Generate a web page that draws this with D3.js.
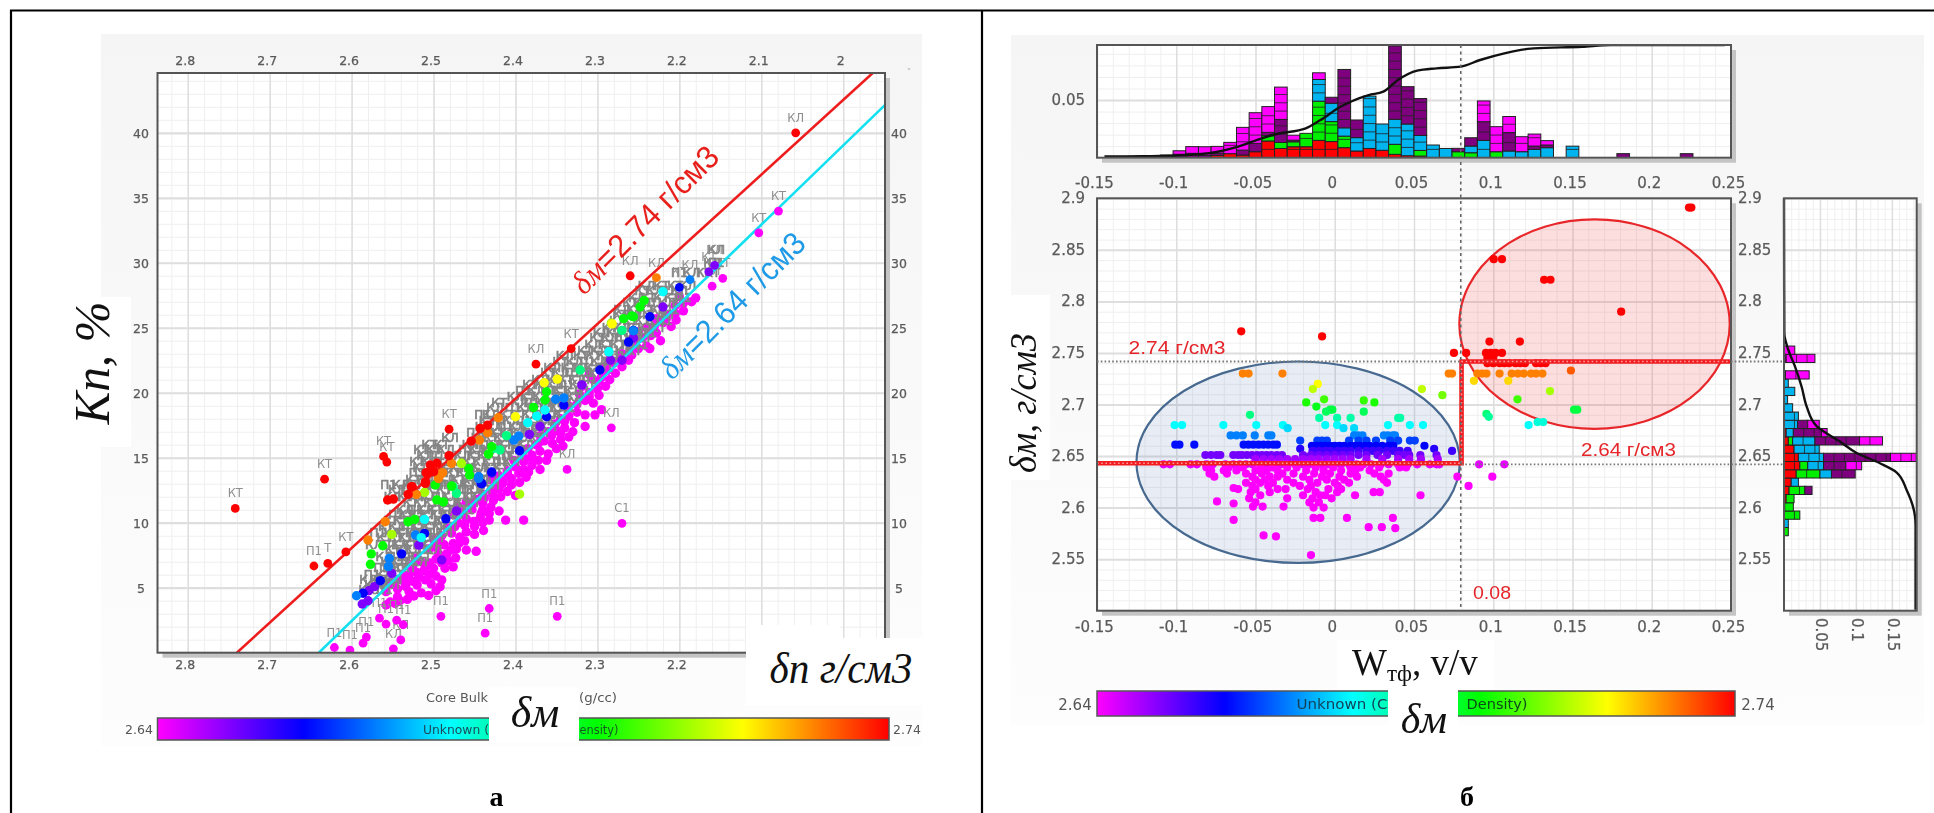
<!DOCTYPE html>
<html><head><meta charset="utf-8">
<style>html,body{margin:0;padding:0;background:#fff}svg{display:block;filter:blur(.45px)}</style>
<script src="https://cdn.jsdelivr.net/npm/d3@7"></script>
</head><body><svg id="c" width="1934" height="813"></svg>
<script>
// ---------- shared colour legend ----------
const densityStops=[2.64,2.66,2.68,2.70,2.72,2.74];
const densityColors=["#ff00ff","#0000ff","#00ffff","#00ff00","#ffff00","#ff0000"];
// ---------- panel a: axes ----------
const aXTicks=[2.8,2.7,2.6,2.5,2.4,2.3,2.2,2.1,2];
const aYTicks=[5,10,15,20,25,30,35,40];
const lineMatrix=[2.74,2.64];
const fluidDensity=1;
// ---------- panel a: labelled outliers [bulk density, Kp, matrix density, label] ----------
const aOutliers=[
[2.742,11.1,2.75,"КТ"],[2.633,13.35,2.75,"КТ"],[2.561,15.1,2.75,"КТ"],[2.557,14.67,2.75,"КТ"],
[2.646,6.67,2.75,"П1"],[2.629,6.87,2.75,"Т"],[2.607,7.75,2.75,"КТ"],[2.481,17.2,2.75,"КТ"],
[2.058,40,2.75,"КЛ"],[2.26,29,2.75,"КЛ"],[2.228,28.85,2.73,"КЛ"],[2.332,23.4,2.75,"КТ"],[2.375,22.2,2.75,"КЛ"],
[2.187,28.7,2.67,"КЛ"],[2.2,28.1,2.66,"КТ"],[2.164,29.3,2.65,"КТ"],[2.157,29.8,2.65,"КЛ"],
[2.079,33.98,2.64,"КТ"],[2.103,32.3,2.64,"КТ"],[2.16,28.2,2.64,"КЛ"],[2.147,28.8,2.64,"КТ"],
[2.27,9.95,2.64,"С1"],[2.283,17.3,2.64,"КЛ"],[2.337,14.1,2.64,"КЛ"],[2.349,2.8,2.64,"П1"],[2.432,3.4,2.64,"П1"],
[2.437,1.5,2.64,"П1"],[2.491,2.8,2.64,"П1"],[2.621,.4,2.64,"П1"],[2.602,.2,2.64,"П1"],[2.582,1.2,2.64,"П1"],
[2.586,.73,2.64,"П1"],[2.549,.3,2.64,"КЛ"],[2.54,.98,2.64,"КЛ"],[2.566,2.66,2.64,"П1"],[2.558,2.2,2.64,"П1"],
[2.545,2.5,2.64,"П1"],[2.537,2.15,2.64,"П1"]];
// ---------- panel a: gray label cloud, rows of [Kp, [bulk density...]] ----------
const aCloudTypes=["КТ","КЛ","П1","КЛ","КТ"];
const aCloud=[
[4.8,[2.582,2.571,2.56]],[5.6,[2.58,2.568,2.556,2.549]],[6.5,[2.563,2.552,2.54,2.53]],
[7.4,[2.56,2.547,2.534,2.522,2.512]],[8.3,[2.573,2.553,2.541,2.528,2.516,2.505]],
[9.2,[2.568,2.55,2.538,2.524,2.512,2.498,2.487]],[10.1,[2.552,2.54,2.527,2.515,2.502,2.49,2.478]],
[11,[2.535,2.522,2.51,2.498,2.485,2.472,2.46]],[12,[2.55,2.535,2.52,2.505,2.492,2.48,2.467,2.455,2.445]],
[12.9,[2.555,2.54,2.528,2.51,2.495,2.482,2.47,2.457,2.445,2.43]],[13.8,[2.52,2.505,2.49,2.476,2.462,2.45,2.438,2.425]],
[14.7,[2.52,2.505,2.49,2.47,2.455,2.443,2.43,2.418,2.405]],[15.6,[2.515,2.5,2.485,2.46,2.447,2.433,2.42,2.408,2.395]],
[16.5,[2.48,2.445,2.43,2.416,2.403,2.39,2.375]],[17.4,[2.44,2.426,2.412,2.398,2.385,2.372,2.36]],
[18.3,[2.44,2.43,2.41,2.396,2.382,2.368,2.355,2.345]],[19.2,[2.42,2.395,2.38,2.366,2.352,2.34,2.33]],
[20.1,[2.39,2.375,2.36,2.345,2.33,2.318]],[21,[2.37,2.352,2.338,2.325,2.31]],
[21.9,[2.355,2.335,2.32,2.305,2.29]],[22.8,[2.34,2.32,2.305,2.29,2.275]],
[23.7,[2.305,2.29,2.275,2.26,2.248]],[24.6,[2.295,2.28,2.265,2.25,2.238]],
[25.5,[2.275,2.26,2.245,2.23,2.218]],[26.4,[2.27,2.255,2.24,2.225,2.21]],
[27.3,[2.252,2.238,2.222,2.208,2.195]],[28.2,[2.24,2.222,2.205,2.19]],
[29.2,[2.2,2.185,2.17,2.16]],[30,[2.16,2.155]],[31,[2.155]]];
const aCloudExtra=[
[5.2,[2.575,2.563,2.552]],[6,[2.575,2.56,2.546]],[7,[2.555,2.542,2.53,2.518]],[7.9,[2.55,2.537,2.525,2.51,2.5]],
[8.8,[2.56,2.545,2.533,2.52,2.508,2.495]],[9.7,[2.558,2.545,2.53,2.518,2.505,2.492,2.482]],[10.6,[2.545,2.532,2.52,2.507,2.494,2.48,2.468]],
[11.5,[2.528,2.515,2.502,2.49,2.478,2.465,2.452]],[12.5,[2.545,2.53,2.515,2.5,2.487,2.473,2.46,2.45,2.437]],
[13.3,[2.525,2.51,2.497,2.484,2.47,2.456,2.443,2.43]],[14.2,[2.515,2.497,2.483,2.47,2.457,2.444,2.43,2.418]],
[15.1,[2.51,2.496,2.465,2.45,2.437,2.424,2.412,2.4]],[16,[2.505,2.49,2.455,2.44,2.426,2.413,2.4,2.388]],
[16.9,[2.45,2.436,2.422,2.41,2.396,2.382,2.37]],[17.8,[2.435,2.42,2.405,2.39,2.377,2.364,2.352]],
[18.8,[2.425,2.403,2.388,2.374,2.36,2.348,2.337]],[19.7,[2.4,2.385,2.37,2.356,2.342,2.328]],
[20.6,[2.382,2.367,2.352,2.338,2.324,2.312]],[21.5,[2.36,2.345,2.33,2.316,2.302]],[22.4,[2.345,2.328,2.312,2.298,2.284]],
[23.2,[2.315,2.298,2.282,2.268,2.255]],[24.2,[2.3,2.285,2.27,2.256,2.243]],[25,[2.285,2.27,2.255,2.24,2.226]],
[26,[2.272,2.257,2.242,2.228,2.214]],[26.9,[2.26,2.245,2.23,2.215,2.2]],[27.8,[2.245,2.23,2.214,2.2]]];
// ---------- panel a: visible points, [bulk density, Kp] by matrix density class ----------
const aRed=[[2.556,11.75],[2.549,11.82],[2.531,12.18],[2.527,12.77],[2.51,13.03],[2.508,13.8],[2.434,17.5],[2.443,17.26],[2.454,16.28],[2.481,15.16],[2.504,14.44],[2.496,14.57],[2.509,13.85],[2.5,13.92],[2.51,13.15],[2.526,12.77]];
const aOrange=[[2.58,8.67],[2.559,10.08],[2.521,12.18],[2.494,13.4],[2.489,13.85],[2.421,18.08],[2.444,16.36],[2.478,14.57],[2.49,13.8],[2.434,16.92]];
const aYellow=[[2.4,18.15],[2.349,21.05],[2.365,20.77],[2.282,25.3]];
const aLime=[[2.511,12.34],[2.551,9.1],[2.466,14.57],[2.283,25.36],[2.395,12.2]];
const aGreen=[[2.562,8.23],[2.576,7.6],[2.577,6.8],[2.531,10.08],[2.523,10.26],[2.496,11.75],[2.488,11.6],[2.478,12.82],[2.456,13.67],[2.364,19.44],[2.362,20.08],[2.378,18.87],[2.429,15.85],[2.433,15.28],[2.457,14.18],[2.498,12.9],[2.268,25.7],[2.258,25.9],[2.243,27.1],[2.248,26.6],[2.256,25.85]];
const aTeal=[[2.472,12.26],[2.321,21.75],[2.27,24.8],[2.411,16.7],[2.419,15.6],[2.427,15.7],[2.476,12.77]];
const aCyan=[[2.511,10.26],[2.515,8.85],[2.364,18.67],[2.385,17.69],[2.286,23.15],[2.374,18.2],[2.22,27.77]];
const aAzure=[[2.554,7.26],[2.555,6.62],[2.522,9.05],[2.445,13.4],[2.594,4.38],[2.351,19.5],[2.341,19.6],[2.396,16.67],[2.402,16.36],[2.445,13.54],[2.256,24.77]];
const aBlue=[[2.539,7.6],[2.511,9.18],[2.485,10.3],[2.441,13],[2.429,13.9],[2.565,5.54],[2.586,4.57],[2.341,19.05],[2.362,18.15],[2.395,15.54],[2.442,13.03],[2.297,21.75],[2.262,23.9],[2.236,25.85],[2.256,24.8]];
const aViolet=[[2.518,8.28],[2.472,10.9],[2.572,5.08],[2.579,4.77],[2.587,3.75],[2.58,4],[2.551,6.1],[2.49,7.13],[2.383,16.8],[2.319,20.6],[2.284,22.5],[2.27,22.5],[2.256,24.2],[2.429,13.8],[2.37,17.4],[2.22,26.6]];
const aMagenta=[[2.558,3.67],[2.547,3.8],[2.544,4.3],[2.532,4.1],[2.524,4.36],[2.515,4.6],[2.506,4.4],[2.497,4.77],[2.492,5.08],
[2.553,3.9],[2.541,4.0],[2.53,4.7],[2.52,5.2],[2.534,5.1],[2.544,4.9],[2.551,5.4],[2.558,4.7],[2.55,5.3],[2.543,5.6],[2.535,5.4],[2.526,5.5],[2.518,5.8],[2.51,5.6],[2.503,5.3],[2.53,6.0],[2.521,6.2],[2.512,6.3],[2.505,6.0],[2.497,5.9],[2.49,5.6],[2.476,6.6],[2.486,6.5],[2.46,7.9],[2.448,7.8],[2.472,7.98],[2.439,9.4],[2.432,10.2],[2.412,10.2],[2.39,10.2],
[2.525,6.8],[2.515,7.0],[2.505,6.9],[2.497,7.2],[2.49,6.9],[2.482,7.1],[2.473,7.3],[2.52,7.3],[2.505,8],[2.497,8.1],[2.487,8.3],[2.479,7.9],[2.469,8.4],[2.492,8.6],[2.49,9],[2.478,9.2],[2.468,8.9],[2.46,9.3],[2.45,9.1],[2.483,9.6],[2.47,10],[2.46,10.3],[2.451,10.1],[2.443,10.4],[2.465,10.8],[2.453,11],[2.44,11],[2.43,11.2],
[2.46,11.6],[2.447,11.8],[2.438,11.9],[2.427,11.7],[2.418,12],[2.44,12.2],[2.43,12.5],[2.42,12.6],[2.41,12.4],[2.40,12.1],[2.425,13],[2.415,13.2],[2.405,13.4],[2.395,13.1],[2.387,13.5],[2.41,14],[2.4,14.3],[2.39,14.1],[2.38,14.4],[2.37,14.1],[2.372,14.8],[2.39,15],[2.38,15.2],[2.37,15.5],[2.36,15.3],[2.375,16],[2.365,16.3],[2.355,16.1],[2.345,16.4],[2.335,16.6],[2.36,17],[2.35,17.1],[2.34,17.3],[2.33,17],[2.315,17.4],
[2.345,18],[2.335,18.2],[2.325,18.5],[2.315,18.3],[2.303,18.3],[2.295,18.7],[2.335,19],[2.325,19.1],[2.315,19.4],[2.305,19.2],[2.31,20],[2.3,20.3],[2.29,20.5],[2.318,20.5],[2.305,21],[2.295,21.2],[2.285,21],[2.29,22],[2.28,22.3],[2.27,22],[2.262,22.5],[2.27,23],[2.26,23.3],[2.25,23.4],[2.24,23.6],[2.236,23.4],[2.255,24],[2.245,24.2],[2.235,24.4],[2.223,24],[2.24,25],[2.23,25.2],[2.22,25.4],[2.21,25.1],[2.215,26],[2.205,26.1],[2.195,26.3],[2.205,26.7],[2.195,26.9],[2.185,27],[2.18,27.3],
[2.536,5.9],[2.526,6.5],[2.51,6.6],[2.5,6.5],[2.494,7.6],[2.484,7.6],[2.476,8.4],[2.462,8.6],[2.5,8.7],[2.474,9.7],[2.462,9.8],[2.45,9.7],[2.44,10],[2.475,10.6],[2.442,10.7],[2.432,10.7],[2.42,10.9],[2.47,11.3],[2.452,11.5],[2.44,11.5],[2.428,12.2],[2.416,13],[2.405,12.9],[2.43,13.3],[2.42,13.6],[2.41,13.8],[2.396,13.8],[2.384,13.9],[2.402,14.8],[2.39,14.7],[2.38,14.9],[2.362,14.8],[2.385,15.7],[2.372,16.1],[2.35,15.7],[2.342,15.9],[2.37,16.7],[2.356,16.7],[2.345,16.9],[2.352,17.6],[2.34,17.8],[2.328,17.7],[2.322,19.9],[2.31,19.7],[2.298,19.8],[2.298,20.9],[2.31,21.4],[2.288,21.7],[2.278,21.5],[2.285,22.6],[2.272,22.6],[2.258,22.9],[2.25,24.7],[2.238,24.8],[2.228,24.6],[2.228,25.7],[2.216,25.7],[2.204,25.6],[2.2,27.4]];
// ---------- panel b: axes ----------
const bXTicks=[-0.15,-0.1,-0.05,0,0.05,0.1,0.15,0.2,0.25];
const bYTicks=[2.55,2.6,2.65,2.7,2.75,2.8,2.85,2.9];
// ---------- panel b: scatter rows, [matrix density, [W...]] ----------
const bRows=[
[2.891,[.2235,.225]],[2.841,[.1003,.1055]],[2.821,[.1321,.1361]],[2.79,[.1807]],[2.761,[.0976,.1168]],[2.771,[-.059]],[2.766,[-.008]],
[2.75,[.0752,.0829,.0954,.0985,.1015,.1055]],[2.745,[.0963,.1]],[2.74,[.0963,.1,.104,.107,.11,.114,.117,.12,.127,.13,.133]],
[2.733,[.149]],[2.73,[-.058,-.0544,-.033,.0719,.074,.09,.093,.0957,.104,.1116,.1156,.1193,.1239,.127,.131]],
[2.723,[.0878,.1095]],[2.72,[-.0107]],[2.715,[-.0138,.055]],[2.713,[.1358]],[2.709,[.0679]],[2.705,[.1153,-.0067]],[2.702,[.025,-.018]],[2.704,[.0183]],[2.698,[-.0116]],
[2.695,[-.003,-.0015,.151,.153]],[2.693,[.0183,-.0055]],[2.691,[.0957]],[2.69,[-.0535]],[2.688,[.0972]],[2.687,[-.0098,.0015,.01,.04,.0413]],
[2.683,[.128,.1315]],[2.68,[-.101,-.0963,-.0703,-.0495,-.0327,-.006,.0015,.0336,.0474,.0557,.1223]],[2.677,[-.0297,.0055,.0122]],
[2.67,[-.0657,-.062,-.058,-.0505,-.0419,-.04,.0122,.0147,.031,.0367,.038,.0336,.0175]],
[2.665,[-.0218,-.011,-.008,-.005,.009,.015,.02,.026,.035,.04,.0474,.0505]],
[2.661,[-.1006,-.098,-.0886,-.0575,-.0545,-.0514,-.048,-.045,-.042,-.0388,-.0365]],
[2.66,[-.0144,-.0115,-.009,-.006,-.003,0,.003,.006,.01,.013,.016,.019,.022,.026,.03,.034,.037,.0566]],
[2.657,[-.0218,.0627]],[2.655,[-.014,-.01,-.006,-.003,.002,.006,.01,.015,.02,.024,.028,.033,.037,.041,.046,.074]],
[2.651,[-.0816,-.078,-.0745,-.0722,-.064,-.061,-.0585,-.0554,-.0522,-.049,-.046,-.043,-.04,-.0365,-.0333,-.02,-.015,-.01,-.005,0,.005,.01,.015,.02,.027,.033,.04,.044,.047,.054,.0642]],
[2.647,[-.05,-.045,-.04,-.035,-.03,-.025,-.02,-.015,-.01,-.005,0,.005,.01,.02,.03,.04,.047,.0544,.065]],
[2.642,[-.108,-.104,-.091,-.087,-.081,-.077,-.069,-.064,-.06,-.056,-.052,-.046,-.042,-.038,-.034,-.03,-.025,-.02,-.016,-.012,-.008,-.004,0,.004,.009,.014,.018,.023,.029,.034,.04,.046,.052,.06,.0642,.066,.0911,.107]],
[2.639,[-.081,-.067,-.058,-.047,-.039,-.03,-.024,-.012,-.001,.01,.016,.028,.041,.045]],
[2.636,[-.078,-.07,-.062,-.05,-.043,-.036,-.018,-.007,.004,.013,.022]],
[2.633,[-.079,-.068,-.056,-.046,-.033,-.026,-.013,-.003,.01,.025,.034]],
[2.63,[-.076,-.052,-.041,-.036,-.02,-.008,.003,.014,.029,.0774,.0994]],
[2.627,[-.05,-.044,-.03,-.016,-.005,.006,.031]],
[2.624,[-.056,-.047,-.039,-.026,-.011,0,.009,.033]],
[2.621,[-.052,-.042,-.022,-.015,.002,.0844]],
[2.618,[-.061,-.05,-.036,-.031,-.017,-.004,.004]],[2.619,[-.0638]],
[2.615,[-.053,-.041,-.012,.0015,.0245,.0284]],
[2.612,[-.047,-.02,-.006,.0128,.0541,-.0092]],
[2.609,[-.054,-.03,-.014,-.002]],[2.606,[-.0743]],[2.605,[-.05,-.016,-.01]],[2.604,[-.0638]],
[2.601,[-.0516,-.0455,-.0323]],[2.6,[-.0134,-.007]],[2.59,[-.0134,-.0091,.0077,.0367]],[2.588,[-.0638]],[2.581,[.0214,.0297]],[2.58,[.0382]],
[2.573,[-.0449]],[2.572,[-.0371]],[2.554,[-.015]]];
const bBlueEllipse={w:-.0231,d:2.644,rw:.102,rd:.0977};
const bRedEllipse={w:.1639,d:2.778,rw:.0853,rd:.1016};
const bCutoff=[[-.15,2.643],[.08,2.643],[.08,2.7417],[.25,2.7417]];
// ---------- panel b: top histogram, frequency x 0.001 per bin, bottom to top ----------
const topBinStart=-0.11, topBinWidth=0.008;
const topRed=[0,0,0,0,2,3.5,2.3,5.2,14.5,8,9.5,9.5,15,14,8.7,5.8,8,6.4,2.9,1.7,1.4];
const topGreen=[0,0,0,0,0,0,0,0,4.6,5.2,4.3,11.6,34,17.3,10,0,0,0,8.7,0,4.9,0,0,5.2,4.3,0,5.2];
const topAzure=[0,0,0,0,0,0,0,0,0,0,0,0,18.8,15.9,7.2,11.6,45.4,22.8,21.7,27.5,13,11,8,0,5.8,15,0,5.8,5.2,7.2,8.7,0,10];
const topPurple=[2.3,3,3.8,2,2,0,4.3,7.2,2.9,20,1.4,0,0,5.2,50.6,15.3,0,0,63.6,32.4,32,0,0,2.9,7.2,16.2,0,16,0,2.9,2.3,0,0,0,0,0,3.5,0,0,0,0,3.5];
const topMagenta=[0,3,5.8,7.5,5.8,9.8,19.7,26.6,22.3,28,4.3,0,5.8,0,0,0,0,0,0,0,0,0,0,0,0,18,21.7,13.9,13,10.4,3.8];
const topCdf=[[-.1453,.01],[-.11,.015],[-.0795,.04],[-.061,.098],[-.046,.172],[-.0367,.21],[-.0183,.26],[-.009,.334],[.003,.447],[.0214,.556],[.0306,.586],[.0398,.689],[.052,.772],[.0642,.793],[.0795,.808],[.0917,.867],[.107,.926],[.1254,.97],[.156,.985],[.1743,1],[.246,1]];
// ---------- panel b: side histogram ----------
const sideBinStart=2.5727, sideBinWidth=0.008;
const sideRed=[0,0,0,1,3,7,10,17,22,20,14,6,3];
const sideGreen=[6,0,22,12,11,22,0,33,11,0,0,6];
const sideAzure=[0,6,0,0,0,0,10,16,22,35,35,31,10,19,20,12,5,15,6];
const sidePurple=[0,0,0,0,0,10,0,33,31,93,0,62,39,14,0,0,0,0,0,2,0,3];
const sideMagenta=[0,0,0,0,0,0,0,0,22,36,0,32,8,16,0,0,0,0,0,33,0,40,15];
const sideCdf=[[2.9,0],[2.769,.0025],[2.753,.033],[2.737,.083],[2.717,.134],[2.698,.172],[2.679,.247],[2.664,.424],[2.653,.55],[2.643,.727],[2.634,.854],[2.617,.929],[2.592,.992],[2.582,.997],[2.501,.997]];
const stackColors=["#ff0000","#00ee00","#00b4f0","#7f007f","#ff00ff"];

const svg=d3.select("#c");
const SERIF="'Liberation Serif',serif", SANS="'DejaVu Sans',sans-serif";
const color=d3.scaleLinear().domain(densityStops).range(densityColors).clamp(true);
const defs=svg.append("defs");
const rng=defs.append("linearGradient").attr("id","ramp");
densityStops.forEach((s,i)=>rng.append("stop").attr("offset",i/(densityStops.length-1)).attr("stop-color",densityColors[i]));
const fade=defs.append("linearGradient").attr("id","bg").attr("x1",0).attr("x2",0).attr("y1",0).attr("y2",1);
fade.append("stop").attr("offset",0).attr("stop-color","#f5f5f5");
fade.append("stop").attr("offset",1).attr("stop-color","#fdfdfd");

const box=(x,y,w,h,fill)=>svg.append("rect").attr("x",x).attr("y",y).attr("width",w).attr("height",h).attr("fill",fill||"#fff");
function label(t,x,y,o={}){const e=svg.append("text").attr("x",x).attr("y",y).attr("fill",o.fill||"#555")
 .attr("font-family",o.font||SANS).attr("font-size",o.size||12).attr("text-anchor",o.anchor||"middle").attr("dominant-baseline",o.base||"auto")
 .attr("font-style",o.italic?"italic":null).attr("font-weight",o.bold?"bold":null).text(t);
 if(o.len)e.attr("textLength",o.len).attr("lengthAdjust","spacingAndGlyphs");
 if(o.rot!=null)e.attr("transform",`rotate(${o.rot} ${x} ${y})`);return e;}

// table rules
svg.append("g").attr("stroke","#000").attr("stroke-width",2.2).call(g=>{
 g.append("line").attr("x1",10).attr("x2",1934).attr("y1",10.5).attr("y2",10.5);
 g.append("line").attr("x1",11).attr("x2",11).attr("y1",10).attr("y2",813);
 g.append("line").attr("x1",982).attr("x2",982).attr("y1",10).attr("y2",813);
});
box(101,34,821,712,"url(#bg)");
box(1011,35,913,690,"url(#bg)");

function frame(x,y,xMinor,xMajor,yMinor,yMajor,majorW){
 const [x0,x1]=x.range(),[y1,y0]=y.range();
 box(x0+5,y0+5,x1-x0,y1-y0,"#c4c4c4");box(x0,y0,x1-x0,y1-y0,"#fff");
 const gridX=(tv,col,w)=>{
  const a=svg.append("g").attr("transform",`translate(0,${y1})`).call(d3.axisBottom(x).tickValues(tv).tickSize(-(y1-y0)).tickFormat(""));
  a.select(".domain").remove();a.selectAll("line").attr("stroke",col).attr("stroke-width",w);
 };
 const gridY=(tv,col,w)=>{
  const a=svg.append("g").attr("transform",`translate(${x0},0)`).call(d3.axisLeft(y).tickValues(tv).tickSize(-(x1-x0)).tickFormat(""));
  a.select(".domain").remove();a.selectAll("line").attr("stroke",col).attr("stroke-width",w);
 };
 gridX(xMinor,"#efefef",1);gridY(yMinor,"#efefef",1);
 gridX(xMajor,"#dedede",1.5);gridY(yMajor,"#dedede",majorW||2);
}
const border=(x,y)=>{const [x0,x1]=x.range(),[y1,y0]=y.range();
 svg.append("rect").attr("x",x0).attr("y",y0).attr("width",x1-x0).attr("height",y1-y0).attr("fill","none").attr("stroke","#555").attr("stroke-width",2);};
function tickLabels(axis,tx,ty,dx,dy,size,fmt){
 const g=svg.append("g").attr("transform",`translate(${tx},${ty})`).call(axis.tickSize(0).tickPadding(0).tickFormat(fmt));
 g.select(".domain").remove();g.selectAll("line").remove();
 g.selectAll("text").attr("font-family",SANS).attr("font-size",size).attr("fill","#5a5a5a").attr("stroke","#5a5a5a").attr("stroke-width",.25).attr("dx",dx).attr("dy",dy).attr("x",0).attr("y",0).attr("dominant-baseline","middle");
 return g;}
const seq=(a,b,s)=>{const n=Math.round((b-a)/s);return d3.range(n+1).map(i=>+(a+i*s).toFixed(4));};

// ============ PANEL a ============
const ax=d3.scaleLinear().domain([2.8369,1.949]).range([157.5,885]);
const ay=d3.scaleLinear().domain([0,44.6]).range([652.7,73]);
frame(ax,ay,seq(1.96,2.82,.02),aXTicks,seq(1,44,1),aYTicks,2.2);
defs.append("clipPath").attr("id","ca").append("rect").attr("x",157.5).attr("y",73).attr("width",727.5).attr("height",579.7);
const pa=svg.append("g").attr("clip-path","url(#ca)");
const kp=(m,d)=>(m-d)/(m-fluidDensity)*100;
const aLine=d3.line().x(p=>ax(p[0])).y(p=>ay(p[1]));
const dots=(g,data,r,col)=>g.selectAll(null).data(data).join("circle").attr("cx",d=>ax(d[0])).attr("cy",d=>ay(d[1])).attr("r",r).attr("fill",col);
dots(pa,aMagenta,4.7,color(2.64));
// label cloud
const cloud=aCloud.concat(aCloudExtra).flatMap(([k,ds])=>ds.map(d=>[d,k]));
pa.append("g").attr("fill","#848484").attr("stroke","#848484").attr("stroke-width",.7).attr("font-family",SANS).attr("font-size",12).attr("text-anchor","middle")
 .selectAll("text").data(cloud).join("text").attr("x",d=>ax(d[0])).attr("y",d=>ay(d[1])+4).text((d,i)=>aCloudTypes[i%aCloudTypes.length]);
pa.append("g").attr("fill","#8e8e8e").attr("font-family",SANS).attr("font-size",11.5).attr("text-anchor","middle")
 .selectAll("text").data(aOutliers).join("text").attr("x",d=>ax(d[0])).attr("y",d=>ay(d[1])-11).text(d=>d[3]);
// matrix-density lines through the bulk-density axis, above the label cloud
[[lineMatrix[0],"#ee1c1c"],[lineMatrix[1],"#12e0f0"]].forEach(([m,c])=>{
 pa.append("path").attr("d",aLine([[m,0],[1.9,kp(m,1.9)]])).attr("stroke",c).attr("stroke-width",2.6).attr("fill","none");});
[[aViolet,2.65],[aBlue,2.66],[aAzure,2.67],[aCyan,2.68],[aTeal,2.69],[aGreen,2.70],[aLime,2.713],[aYellow,2.72],[aOrange,2.73],[aRed,2.75]].forEach(([arr,m])=>dots(pa,arr,4.7,color(m)));
pa.selectAll(null).data(aOutliers).join("circle").attr("cx",d=>ax(d[0])).attr("cy",d=>ay(d[1])).attr("r",4.4).attr("fill",d=>color(d[2]));
border(ax,ay);
const fm1=d=>d===2?"2":d3.format(".1f")(d);
tickLabels(d3.axisBottom(ax).tickValues(aXTicks),0,61.7,-3,0,12.5,fm1);
tickLabels(d3.axisBottom(ax).tickValues(aXTicks.slice(0,7)),0,665.7,-3,0,12.5,fm1);
tickLabels(d3.axisLeft(ay).tickValues(aYTicks),141,0,0,1,12.5,d3.format("d")).selectAll("text").attr("text-anchor","middle");
tickLabels(d3.axisRight(ay).tickValues(aYTicks),899,0,0,1,12.5,d3.format("d")).selectAll("text").attr("text-anchor","middle");
label("˅",909,75,{size:9,fill:"#aaa"});
// hand-pasted annotations
box(101,297,30,150,"#fff");
box(60,300,71,130,"#fff");
label("Кп, %",109,363,{font:SERIF,italic:true,size:50,fill:"#111",rot:-90,len:123});
box(746,625,94,80,"#fff");box(840,638,85,67,"#fff");
label("δп  г/см3",841,683,{font:SERIF,italic:true,size:44,fill:"#111",len:143});
function slanted(x,y,col,len,txt){
 const t=svg.append("text").attr("transform",`translate(${x},${y}) rotate(-45)`).attr("fill",col).attr("font-size",32).attr("font-family","'Liberation Sans',sans-serif").attr("textLength",len).attr("lengthAdjust","spacingAndGlyphs");
 t.append("tspan").attr("font-family",SERIF).attr("font-style","italic").text("δм");t.append("tspan").text(txt);}
slanted(584,296,"#e8201c",194,"=2.74 г/см3");
slanted(672,381,"#1e9ae6",192,"=2.64 г/см3");
// colour bar a
svg.append("rect").attr("x",157.5).attr("y",718).attr("width",731.5).attr("height",22).attr("fill","url(#ramp)").attr("stroke","#555").attr("stroke-width",1.5);
label("2.64",139,730,{size:12.5,base:"middle"});label("2.74",907,730,{size:12.5,base:"middle"});
label("Core Bulk",457,698,{size:12.5,base:"middle",len:62});label("(g/cc)",598,698,{size:12.5,base:"middle",len:38});
label("Unknown (",456,730,{size:12.5,base:"middle",len:66,fill:"#1c4a5a"});
box(489,687,90,56,"#fff");
label("ensity)",599,730,{size:12.5,base:"middle",len:39,fill:"#155a20"});
label("δм",535,727,{font:SERIF,italic:true,size:44,fill:"#111"});
label("а",496.5,806,{font:SERIF,bold:true,size:28,fill:"#000"});

// ============ PANEL b ============
const bx=d3.scaleLinear().domain([-.15,.25]).range([1097,1731]);
const by=d3.scaleLinear().domain([2.5,2.9]).range([610.7,198.3]);
const hy=d3.scaleLinear().domain([0,.0977]).range([157.7,45]);
const hc=d3.scaleLinear().domain([0,1]).range([157.7,45]);
const sx=d3.scaleLinear().domain([0,.1845]).range([1784,1916.7]);
const sc=d3.scaleLinear().domain([0,1]).range([1784,1916]);
frame(bx,hy,seq(-.15,.25,.01),bXTicks,seq(0,.09,.01),[.05],2);
defs.append("clipPath").attr("id","ct").append("rect").attr("x",1097).attr("y",45).attr("width",634).attr("height",112.7);
const ht=svg.append("g").attr("clip-path","url(#ct)");
const tops=[topRed,topGreen,topAzure,topPurple,topMagenta];
d3.range(42).forEach(i=>{let acc=0;tops.forEach((arr,c)=>{const v=(arr[i]||0)/1000;if(!v)return;
 const xa=bx(topBinStart+i*topBinWidth),xb=bx(topBinStart+(i+1)*topBinWidth);
 ht.append("rect").attr("x",xa).attr("width",xb-xa).attr("y",hy(acc+v)).attr("height",hy(acc)-hy(acc+v)).attr("fill",stackColors[c]).attr("stroke","#222").attr("stroke-width",1);
 for(let u=.0072;u<v-.002;u+=.0072)ht.append("line").attr("x1",xa).attr("x2",xb).attr("y1",hy(acc+u)).attr("y2",hy(acc+u)).attr("stroke","#222").attr("stroke-width",.8);
 acc+=v;});});
ht.append("path").attr("d",d3.line().x(p=>bx(p[0])).y(p=>hc(p[1])).curve(d3.curveMonotoneX)(topCdf)).attr("fill","none").attr("stroke","#111").attr("stroke-width",2.4);
border(bx,hy);
tickLabels(d3.axisLeft(hy).tickValues([.05]),1085,0,0,0,15,d3.format(".2f"));
const fmB=d=>d===0?"0":String(d);
tickLabels(d3.axisBottom(bx).tickValues(bXTicks),0,183,-3,0,15,fmB);
frame(sx,by,seq(.01,.18,.01),[.05,.1,.15],seq(2.51,2.89,.01),bYTicks,2);
const sides=[sideRed,sideGreen,sideAzure,sidePurple,sideMagenta];
d3.range(23).forEach(j=>{let acc=0;sides.forEach((arr,c)=>{const v=(arr[j]||0)/1000;if(!v)return;
 const ya=by(sideBinStart+j*sideBinWidth),yb=by(sideBinStart+(j+1)*sideBinWidth);
 svg.append("rect").attr("y",yb).attr("height",ya-yb).attr("x",sx(acc)).attr("width",sx(acc+v)-sx(acc)).attr("fill",stackColors[c]).attr("stroke","#222").attr("stroke-width",1);
 for(let u=.0145;u<v-.004;u+=.0145)svg.append("line").attr("y1",ya).attr("y2",yb).attr("x1",sx(acc+u)).attr("x2",sx(acc+u)).attr("stroke","#222").attr("stroke-width",.8);
 acc+=v;});});
svg.append("path").attr("d",d3.line().x(p=>sc(p[1])).y(p=>by(p[0])).curve(d3.curveMonotoneY)(sideCdf)).attr("fill","none").attr("stroke","#111").attr("stroke-width",2.4);
border(sx,by);
const sl=tickLabels(d3.axisBottom(sx).tickValues([.05,.1,.15]),0,618,0,0,15,d=>String(d));
sl.selectAll("text").attr("transform","rotate(90)").style("text-anchor","start");
frame(bx,by,seq(-.15,.25,.01),bXTicks,seq(2.51,2.89,.01),bYTicks,2);
const ell=(e,fill,stroke)=>svg.append("ellipse").attr("cx",bx(e.w)).attr("cy",by(e.d)).attr("rx",bx(e.w+e.rw)-bx(e.w)).attr("ry",by(e.d-e.rd)-by(e.d)).attr("fill",fill).attr("stroke",stroke).attr("stroke-width",2.2);
ell(bBlueEllipse,"rgba(90,130,185,.14)","#47698f");
ell(bRedEllipse,"rgba(240,70,70,.18)","#e8262a");
const bPoints=bRows.flatMap(([d,ws])=>ws.map(w=>[w,d]));
svg.append("g").selectAll("circle").data(bPoints).join("circle").attr("cx",d=>bx(d[0])).attr("cy",d=>by(d[1])).attr("r",4.1).attr("fill",d=>color(d[1]));
const bLine=d3.line().x(p=>bx(p[0])).y(p=>by(p[1]));
svg.append("path").attr("d",bLine(bCutoff)).attr("fill","none").attr("stroke","#f01c20").attr("stroke-width",4.6);
svg.append("path").attr("d",bLine(bCutoff)).attr("fill","none").attr("stroke","#ff9a9a").attr("stroke-width",1.5).attr("stroke-dasharray","1.6 2.6");
border(bx,by);
const dotted=(p)=>svg.append("path").attr("d",bLine(p)).attr("fill","none").attr("stroke","#777").attr("stroke-width",1.8).attr("stroke-dasharray","1.6 2.2");
dotted([[-.15,2.7417],[.08,2.7417]]);dotted([[.25,2.7417],[.283,2.7417]]);dotted([[.08,2.642],[.283,2.642]]);
svg.append("line").attr("x1",bx(.0795)).attr("x2",bx(.0795)).attr("y1",hy(.0977)).attr("y2",by(2.5)).attr("stroke","#666").attr("stroke-width",1.6).attr("stroke-dasharray","3 3.5");
const fmY=d=>String(d);
tickLabels(d3.axisLeft(by).tickValues(bYTicks),1085,0,0,0,15,fmY);
tickLabels(d3.axisRight(by).tickValues(bYTicks),1738,0,0,0,15,fmY);
tickLabels(d3.axisBottom(bx).tickValues(bXTicks),0,627,-3,0,15,fmB);
const RED="#e5252a", NARROW="'Liberation Sans',sans-serif";
label("2.74 г/см3",1177,349,{font:NARROW,size:19,fill:RED,len:97,base:"middle"});
label("2.64 г/см3",1628.5,451,{font:NARROW,size:19,fill:RED,len:95,base:"middle"});
label("0.08",1492,594,{font:NARROW,size:19,fill:RED,len:38,base:"middle"});
box(1010,295,40,185,"#fff");
label("δм, г/см3",1036,403,{font:SERIF,italic:true,size:38,fill:"#111",rot:-90,len:140});
svg.append("rect").attr("x",1097).attr("y",691).attr("width",638).attr("height",25).attr("fill","url(#ramp)").attr("stroke","#555").attr("stroke-width",1.5);
label("2.64",1075,705,{size:15,base:"middle"});label("2.74",1758,705,{size:15,base:"middle"});
label("Unknown (C",1342,705,{size:14,base:"middle",len:91,fill:"#123f55"});
box(1337,640,157,50,"#fff");box(1388,690,70,52,"#fff");
label("Density)",1497,705,{size:14,base:"middle",len:61,fill:"#0c4a18"});
const w=svg.append("text").attr("x",1352).attr("y",675).attr("font-family",SERIF).attr("font-size",37).attr("fill","#111");
w.append("tspan").text("W");w.append("tspan").attr("font-size",23).attr("dy",6).text("тф");w.append("tspan").attr("dy",-6).text(", v/v");
label("δм",1424,733,{font:SERIF,italic:true,size:42,fill:"#111"});
label("б",1467,806,{font:SERIF,bold:true,size:28,fill:"#000"});
</script></body></html>
